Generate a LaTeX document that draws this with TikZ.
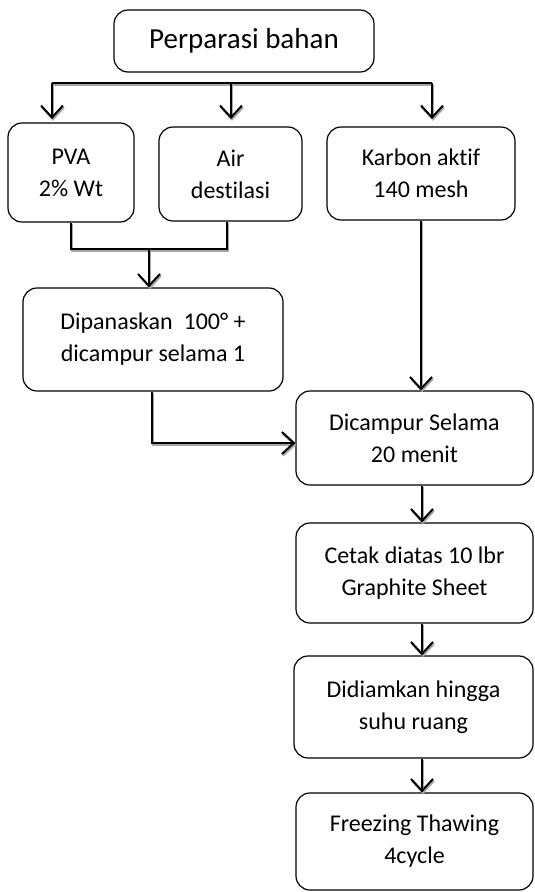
\documentclass[tikz,border=0pt]{standalone}
\usepackage{fontspec}
\setmainfont{Carlito}[Ligatures=NoCommon]
\usetikzlibrary{arrows.meta,calc}
\begin{document}
\begin{tikzpicture}[x=1pt,y=-1pt,
  box/.style={draw=black,line width=1.2pt,rounded corners=14pt,align=center,
    inner sep=0pt,font=\fontsize{24}{32}\selectfont},
  conn/.style={line width=2pt,
    preaction={draw=black!35,line width=2pt,transform canvas={shift={(1pt,-1.8pt)}}}},
  arr/.style={conn,-{Straight Barb[length=12pt,width=22pt,line width=2pt]}}]
\useasboundingbox (0,0) rectangle (535,892);
% boxes
\node[box,minimum width=260pt,minimum height=62pt,font=\fontsize{29}{36}\selectfont] (top) at (244,41) {Perparasi bahan};
\node[box,minimum width=126pt,minimum height=99pt] (pva) at (71,172.5) {PVA\\2\% Wt};
\node[box,minimum width=143pt,minimum height=94pt] (air) at (230.5,174) {Air\\destilasi};
\node[box,minimum width=188pt,minimum height=93pt] (karbon) at (421,173.5) {Karbon aktif\\140 mesh};
\node[box,minimum width=260pt,minimum height=103pt] (panas) at (153,339.5) {Dipanaskan~ 100° +\\dicampur selama 1};
\node[box,minimum width=237pt,minimum height=94pt] (campur) at (414.5,438) {Dicampur Selama\\20 menit};
\node[box,minimum width=237pt,minimum height=100pt] (cetak) at (414.5,573) {Cetak diatas 10 lbr\\Graphite Sheet};
\node[box,minimum width=239pt,minimum height=102pt] (diam) at (413.5,707) {Didiamkan hingga\\suhu ruang};
\node[box,minimum width=237pt,minimum height=97pt] (freeze) at (414.5,841.5) {Freezing Thawing\\4cycle};
% top distribution
\coordinate (h1) at (52,83);
\coordinate (h2) at (231,83);
\coordinate (h3) at (432,83);
\coordinate (t1) at (52,119);
\coordinate (t2) at (231,119);
\coordinate (t3) at (432,119);
\draw[conn] (h1) -- (h3);
\draw[arr] (h1) -- (t1);
\draw[arr] (h2) -- (t2);
\draw[arr] (h3) -- (t3);
% bracket
\coordinate (bl) at (71,249);
\coordinate (br) at (227,249);
\coordinate (bm) at (149,249);
\draw[conn,line width=1.2pt] (pva.south -| bl) -- (bl) -- (br) -- (air.south -| br);
\draw[arr] (bm) -- (panas.north -| bm);
% panas to campur
\coordinate (pc) at (152,443);
\draw[arr] (panas.south -| pc) -- (pc) -- (campur.west |- pc);
% karbon to campur
\draw[arr] (karbon.south) -- (campur.north -| karbon.south);
% chain
\draw[arr] (campur.south -| 422,0) -- (cetak.north -| 422,0);
\draw[arr] (cetak.south -| 422,0) -- (diam.north -| 422,0);
\draw[arr] (diam.south -| 422,0) -- (freeze.north -| 422,0);
\end{tikzpicture}
\end{document}
